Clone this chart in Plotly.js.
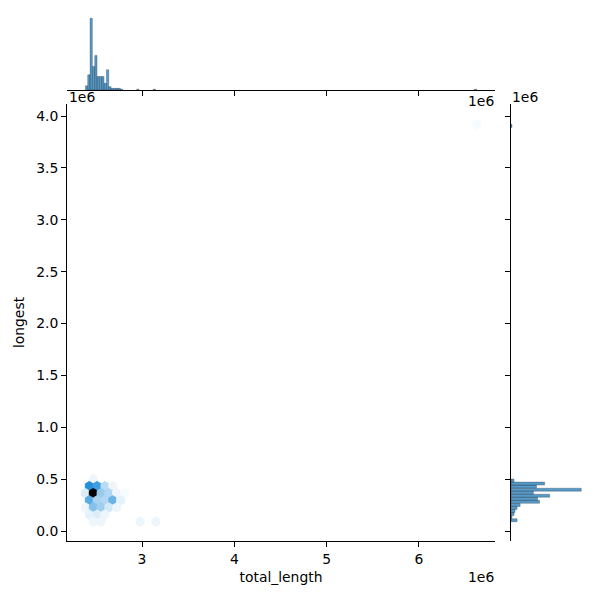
<!DOCTYPE html>
<html><head><meta charset="utf-8">
<script src="https://cdn.plot.ly/plotly-3.0.1.min.js"></script>
<style>html,body{margin:0;padding:0;background:#fff}#chart{width:600px;height:600px}</style>
</head><body><div id="chart"></div>
<script>
// All length values are in units of 1e6 (as labelled on the chart)
const hexX = [2.471,
  2.428, 2.513, 2.598, 2.683,
  2.386, 2.471, 2.556, 2.640, 2.725, 2.810,
  2.428, 2.513, 2.598, 2.683, 2.768,
  2.386, 2.471, 2.556, 2.640, 2.725,
  2.428, 2.513, 2.598,
  2.471, 2.556,
  2.980, 3.149, 6.626];
const hexY = [0.500,
  0.432, 0.432, 0.432, 0.432,
  0.364, 0.364, 0.364, 0.364, 0.364, 0.364,
  0.295, 0.295, 0.295, 0.295, 0.295,
  0.227, 0.227, 0.227, 0.227, 0.227,
  0.158, 0.158, 0.158,
  0.090, 0.090,
  0.090, 0.090, 3.920];
const hexCounts = [2,
  25, 22, 8, 2,
  4, 50, 12, 9, 2, 1,
  19, 10, 9, 17, 3,
  2, 14, 11, 5, 2,
  3, 4, 2,
  2, 2,
  2, 2, 1];

const topBinCenters = [2.399, 2.424, 2.449, 2.475, 2.500, 2.525, 2.551, 2.576, 2.601, 2.627,
  2.652, 2.677, 2.703, 2.728, 2.753, 2.779, 2.955, 3.133, 6.613];
const topCounts = [5, 18, 85, 28, 41, 16, 16, 16, 8, 24, 4, 2, 2, 2, 2, 1, 1, 1, 1];

const rightBinCenters = [0.104, 0.134, 0.163, 0.192, 0.222, 0.251, 0.281, 0.310, 0.340, 0.369,
  0.398, 0.428, 0.457, 0.487, 3.905];
const rightCounts = [6, 1, 3, 4, 6, 9, 28, 26, 38, 22, 69, 25, 33, 3, 1];

const xTickVals = [3, 4, 5, 6];
const yTickVals = [0, 0.5, 1, 1.5, 2, 2.5, 3, 3.5, 4];
const xTitle = 'total_length';
const yTitle = 'longest';
const offsetText = '1e6';

// geometry / style constants
const HEX_SX = 0.0848, HEX_SY = 0.1368;
const TOP_BIN_W = 0.0253, RIGHT_BIN_W = 0.0294;
const FONT = {family: 'DejaVu Sans, sans-serif', size: 13.9, color: '#000'};

function hslToRgb(h, s, l) {
  const c = (1 - Math.abs(2 * l - 1)) * s;
  const hp = h / 60;
  const x = c * (1 - Math.abs(hp % 2 - 1));
  let r = 0, g = 0, b = 0;
  if (hp < 1) { r = c; g = x; } else if (hp < 2) { r = x; g = c; }
  else if (hp < 3) { g = c; b = x; } else if (hp < 4) { g = x; b = c; }
  else if (hp < 5) { r = x; b = c; } else { r = c; b = x; }
  const m = l - c / 2;
  return `rgb(${Math.round((r + m) * 255)},${Math.round((g + m) * 255)},${Math.round((b + m) * 255)})`;
}
const cmax = Math.max(...hexCounts);
function hexColor(c) { return hslToRgb(204.6, 0.706, 1 - c / cmax); }

const dxs = [0.5, 0.5, 0, -0.5, -0.5, 0, 0.5];
const dys = [-0.5, 0.5, 1, 0.5, -0.5, -1, -0.5];
const traces = hexX.map((cx, i) => {
  const cy = hexY[i];
  const col = hexColor(hexCounts[i]);
  return {
    type: 'scatter', mode: 'lines',
    x: dxs.map(d => cx + d * HEX_SX),
    y: dys.map(d => cy + d * HEX_SY / 3),
    fill: 'toself', fillcolor: col,
    line: {color: col, width: 1},
    xaxis: 'x', yaxis: 'y', hoverinfo: 'skip', showlegend: false
  };
});

const barColor = 'rgba(31,119,180,0.75)';
const barLine = {color: 'rgba(0,0,0,0.45)', width: 0.5};
traces.push({
  type: 'bar', x: topBinCenters, y: topCounts, width: TOP_BIN_W,
  marker: {color: barColor, line: barLine},
  xaxis: 'x2', yaxis: 'y2', hoverinfo: 'skip', showlegend: false
});
traces.push({
  type: 'bar', orientation: 'h', y: rightBinCenters, x: rightCounts, width: RIGHT_BIN_W,
  marker: {color: barColor, line: barLine},
  xaxis: 'x3', yaxis: 'y3', hoverinfo: 'skip', showlegend: false
});

const P = v => v / 600;
const axisBase = {
  showgrid: false, zeroline: false, showline: true, linecolor: '#000', linewidth: 1,
  ticks: 'outside', ticklen: 5, tickwidth: 1, tickcolor: '#000', tickfont: FONT, mirror: false
};
const mainX = [67, 495], mainY = [104, 541];
const layout = {
  width: 600, height: 600,
  margin: {l: 0, r: 0, t: 0, b: 0},
  paper_bgcolor: '#fff', plot_bgcolor: 'rgba(0,0,0,0)',
  font: FONT, bargap: 0, showlegend: false,
  xaxis: Object.assign({}, axisBase, {
    domain: [P(mainX[0]), P(mainX[1])], range: [2.187, 6.825],
    tickvals: xTickVals, ticktext: xTickVals.map(String), anchor: 'y',
    title: {text: xTitle, font: FONT, standoff: 6}
  }),
  yaxis: Object.assign({}, axisBase, {
    domain: [1 - P(mainY[1]), 1 - P(mainY[0])], range: [-0.0964, 4.1157],
    tickvals: yTickVals, ticktext: yTickVals.map(v => v.toFixed(1)), anchor: 'x',
    title: {text: yTitle, font: FONT, standoff: 8}
  }),
  xaxis2: Object.assign({}, axisBase, {
    domain: [P(mainX[0]), P(mainX[1])], matches: 'x',
    tickvals: xTickVals, showticklabels: false, anchor: 'y2'
  }),
  yaxis2: {
    domain: [1 - P(90), 1 - P(14.7)], range: [0, Math.max(...topCounts) * 1.05],
    visible: false, anchor: 'x2', fixedrange: true
  },
  xaxis3: {
    domain: [P(511), P(584.8)], range: [0, Math.max(...rightCounts) * 1.05],
    visible: false, anchor: 'y3'
  },
  yaxis3: Object.assign({}, axisBase, {
    domain: [1 - P(mainY[1]), 1 - P(mainY[0])], matches: 'y',
    tickvals: yTickVals, showticklabels: false, anchor: 'x3'
  }),
  annotations: [
    {text: offsetText, xref: 'paper', yref: 'paper', x: P(67), y: 1 - P(97), xanchor: 'left', yanchor: 'middle', showarrow: false, font: FONT},
    {text: offsetText, xref: 'paper', yref: 'paper', x: P(496), y: 1 - P(101), xanchor: 'right', yanchor: 'middle', showarrow: false, font: FONT},
    {text: offsetText, xref: 'paper', yref: 'paper', x: P(510), y: 1 - P(97), xanchor: 'left', yanchor: 'middle', showarrow: false, font: FONT},
    {text: offsetText, xref: 'paper', yref: 'paper', x: P(496), y: 1 - P(577), xanchor: 'right', yanchor: 'middle', showarrow: false, font: FONT}
  ]
};

Plotly.newPlot('chart', traces, layout, {staticPlot: true, displayModeBar: false});
</script>
</body></html>
